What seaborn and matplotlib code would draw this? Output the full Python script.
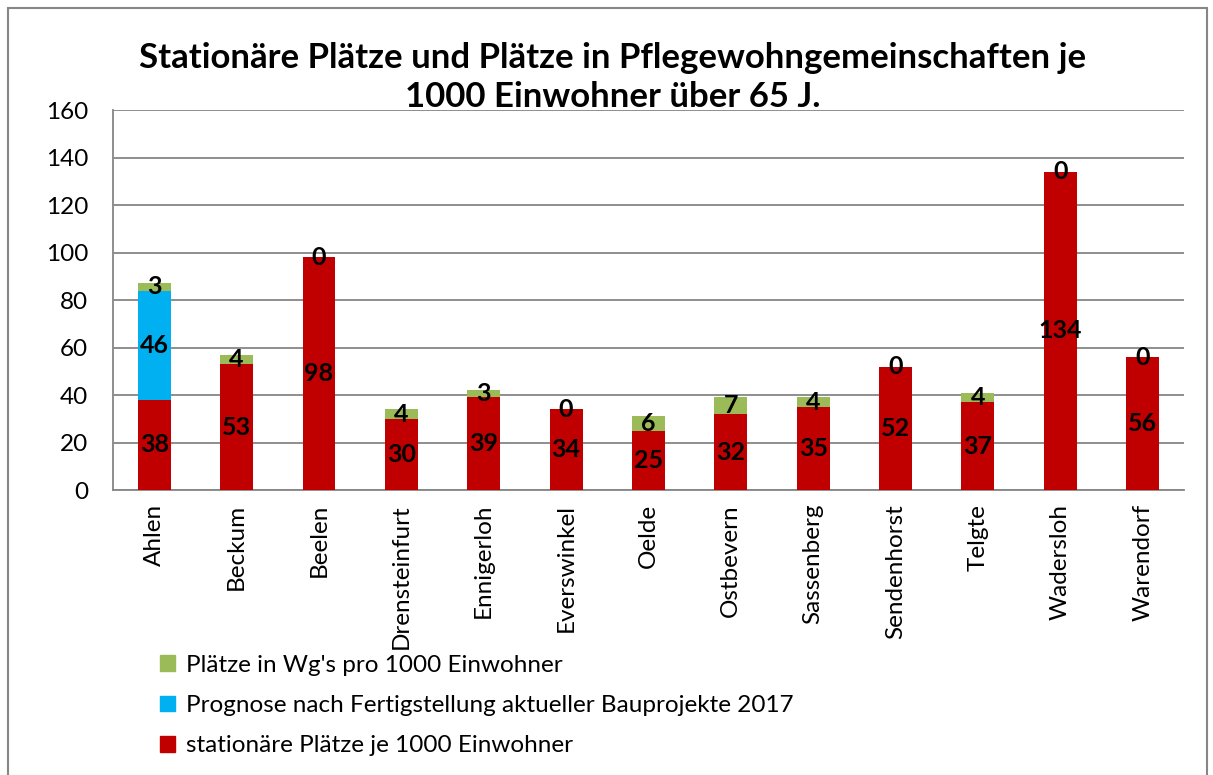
import numpy as np
import pandas as pd
import seaborn as sns
from matplotlib import pyplot as plt
from matplotlib.patches import Rectangle, Patch
from matplotlib.ticker import FixedLocator

orte = ["Ahlen", "Beckum", "Beelen", "Drensteinfurt", "Ennigerloh", "Everswinkel",
        "Oelde", "Ostbevern", "Sassenberg", "Sendenhorst", "Telgte", "Wadersloh", "Warendorf"]
stationaer = [38, 53, 98, 30, 39, 34, 25, 32, 35, 52, 37, 134, 56]
prognose = [46, 0, 0, 0, 0, 0, 0, 0, 0, 0, 0, 0, 0]
wgs = [3, 4, 0, 4, 3, 0, 6, 7, 4, 0, 4, 0, 0]

rot = "#C00000"
blau = "#00B0F0"
gruen = "#9BBB59"
grau = "#868686"

df = pd.DataFrame({"ort": orte, "stat": stationaer, "prog": prognose, "wg": wgs})
df["stat_prog"] = df["stat"] + df["prog"]
df["gesamt"] = df["stat_prog"] + df["wg"]

sns.set_style("white")
plt.rcParams["font.family"] = ["Lato", "DejaVu Sans"]
plt.rcParams["text.color"] = "black"

fig = plt.figure(figsize=(12.13, 7.75), dpi=100)
ax = fig.add_axes([0.0932, 0.3677, 0.8828, 0.4903])

# gestapelt: erst Gesamt, dann die unteren Teile drueber
sns.barplot(data=df, x="ort", y="gesamt", color=gruen, width=0.4, ax=ax, saturation=1, linewidth=0, zorder=3)
sns.barplot(data=df, x="ort", y="stat_prog", color=blau, width=0.4, ax=ax, saturation=1, linewidth=0, zorder=3)
sns.barplot(data=df, x="ort", y="stat", color=rot, width=0.4, ax=ax, saturation=1, linewidth=0, zorder=3)

# Datenbeschriftungen
for i, r in df.iterrows():
    ax.text(i, r["stat"] / 2, str(r["stat"]), ha="center", va="center",
            fontsize=18, fontweight="bold", color="black", zorder=5)
    if r["prog"] > 0:
        ax.text(i, r["stat"] + r["prog"] / 2, str(r["prog"]), ha="center", va="center",
                fontsize=18, fontweight="bold", color="black", zorder=5)
    ax.text(i, r["stat_prog"] + r["wg"] / 2, str(r["wg"]), ha="center", va="center",
            fontsize=18, fontweight="bold", color="black", zorder=5)

ax.set_xlim(-0.5, 12.5)
ax.set_ylim(0, 160)
ax.set_yticks(range(0, 161, 20))
ax.yaxis.grid(True, color=grau, linewidth=1.3, zorder=0)
ax.set_axisbelow(True)
ax.set_xlabel("")
ax.set_ylabel("")

ax.tick_params(axis="y", labelsize=17.5, labelcolor="black", length=6, width=1.3,
               color=grau, direction="out", pad=12)
ax.set_xticks(range(len(orte)))
ax.set_xticklabels(orte, rotation=90, fontsize=17.5, va="top", ha="center", color="black")
ax.tick_params(axis="x", which="major", length=0, pad=10)
ax.xaxis.set_minor_locator(FixedLocator(np.arange(-0.5, 13, 1)))
ax.tick_params(axis="x", which="minor", length=6, width=1.3, color=grau, direction="out")

for s in ["top", "right"]:
    ax.spines[s].set_visible(False)
for s in ["left", "bottom"]:
    ax.spines[s].set_color(grau)
    ax.spines[s].set_linewidth(1.3)

fig.text(0.505, 0.9, "Stationäre Plätze und Plätze in Pflegewohngemeinschaften je\n1000 Einwohner über 65 J.",
         ha="center", va="center", fontsize=25, fontweight="bold", linespacing=1.3)

handles = [Patch(color=gruen), Patch(color=blau), Patch(color=rot)]
labels = ["Plätze in Wg's pro 1000 Einwohner",
          "Prognose nach Fertigstellung aktueller Bauprojekte 2017",
          "stationäre Plätze je 1000 Einwohner"]
fig.legend(handles, labels, loc="upper left", bbox_to_anchor=(0.124, 0.168),
           frameon=False, fontsize=17.5, handlelength=0.6, handleheight=0.6,
           handletextpad=0.45, labelspacing=0.8, borderaxespad=0)

fig.patches.append(Rectangle((8 / 1213, -0.01), 1199 / 1213, 1 - 8 / 775 + 0.01,
                             transform=fig.transFigure, fill=False, edgecolor=grau, linewidth=1.5))

fig.savefig("out.png", dpi=100)
